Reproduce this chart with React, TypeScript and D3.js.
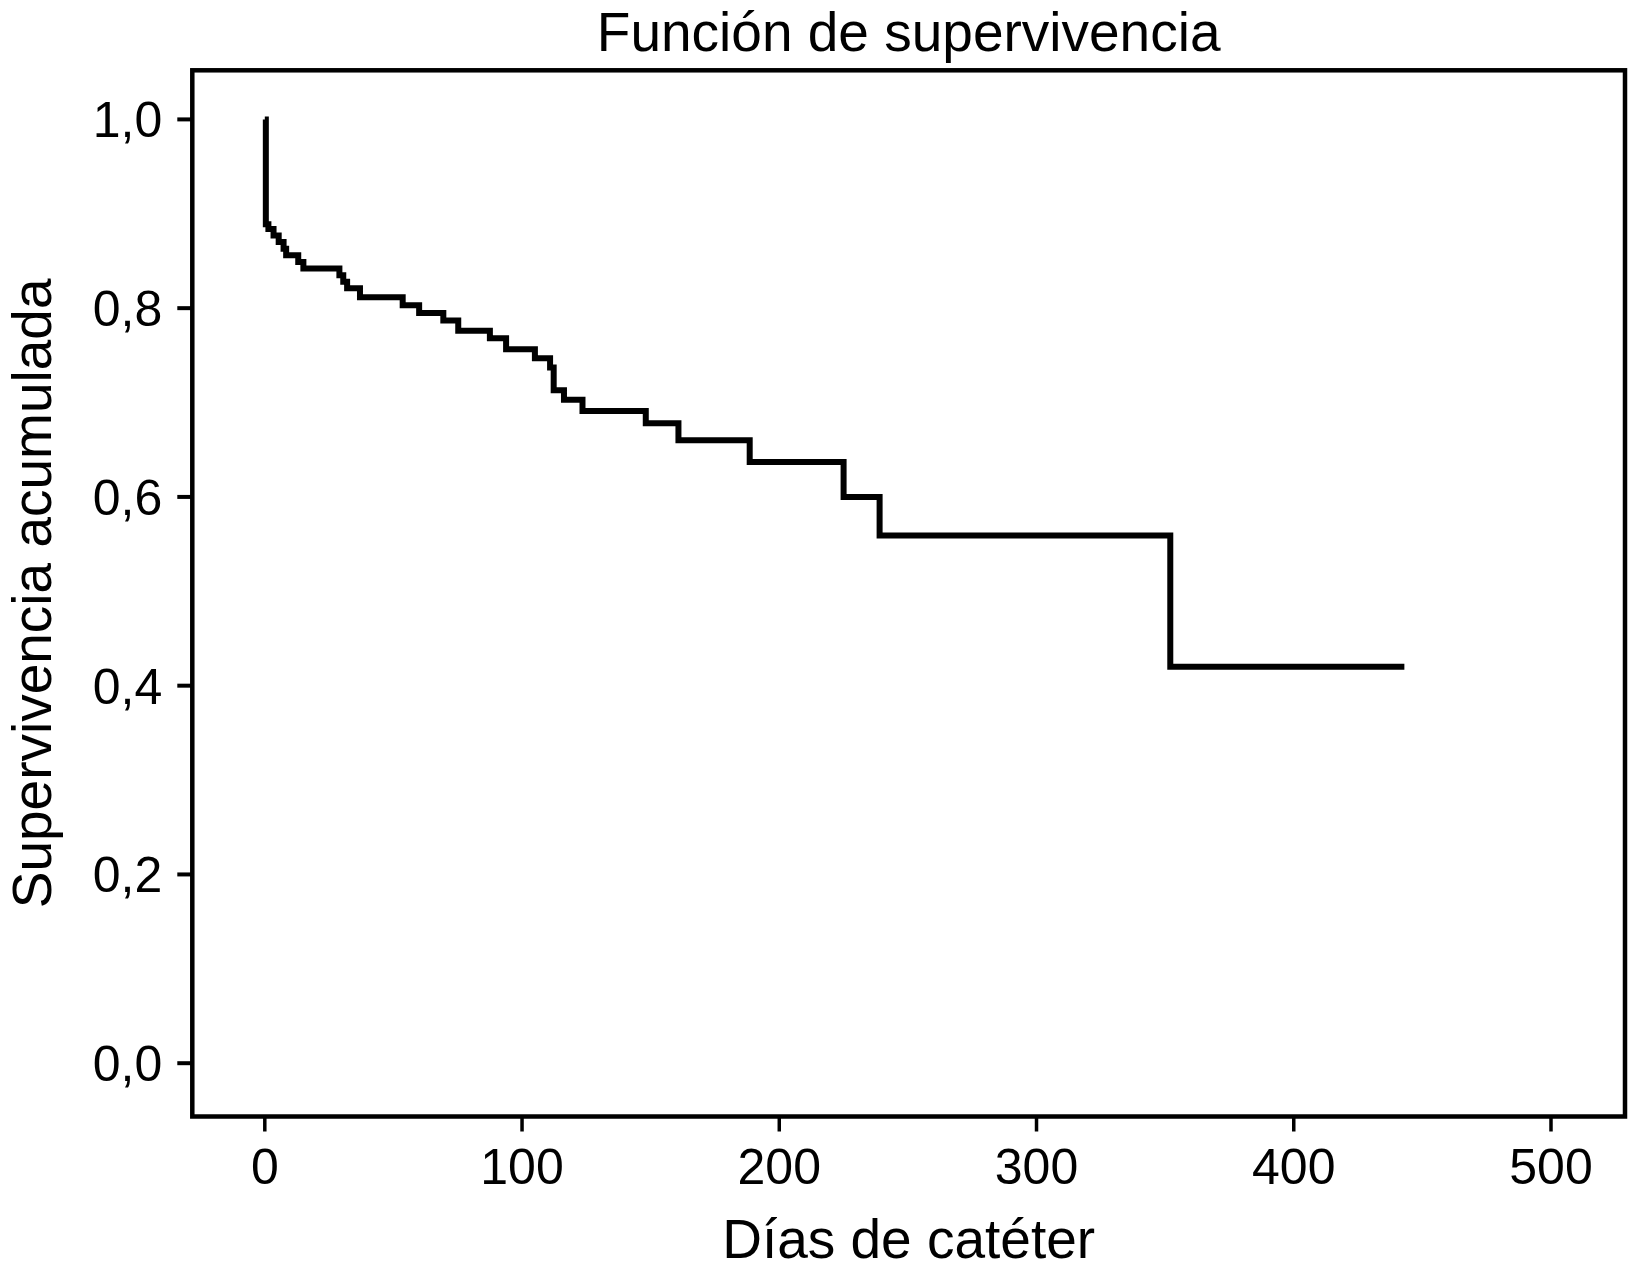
import { useRef, useEffect } from "react";
import * as d3 from "d3";

// Kaplan-Meier steps
const times = [0, 0.4, 1.4, 3.4, 5.4, 7.3, 8.3, 13, 15, 29, 30.5, 32, 37, 53.6, 60, 69.4, 75.2, 87.5, 93.8, 105, 110.9, 112.3, 116.3, 123.5, 148.1, 160.8, 188.5, 225, 239, 352];
const survival = [1.0, 0.889, 0.884, 0.877, 0.87, 0.863, 0.856, 0.849, 0.842, 0.835, 0.828, 0.821, 0.8115, 0.803, 0.795, 0.787, 0.776, 0.768, 0.7565, 0.747, 0.737, 0.713, 0.703, 0.691, 0.678, 0.66, 0.637, 0.6, 0.559, 0.42];
const lastTime = 443;

const xTicks = [0, 100, 200, 300, 400, 500];
const yTicks = [0, 0.2, 0.4, 0.6, 0.8, 1.0];

const title = "Función de supervivencia";
const xLabel = "Días de catéter";
const yLabel = "Supervivencia acumulada";

const W = 1628;
const H = 1272;
const FONT = "'Liberation Sans', Arial, Helvetica, sans-serif";

export default function App() {
  const svgRef = useRef<SVGSVGElement>(null);

  useEffect(() => {
    if (!svgRef.current) return;
    const svg = d3.select(svgRef.current);
    svg.selectAll("*").remove();

    const frame = { left: 192.3, right: 1625, top: 70.3, bottom: 1116.5 };

    const x = d3.scaleLinear().domain([0, 500]).range([264.8, 1551]);
    const y = d3.scaleLinear().domain([0, 1]).range([1063.2, 119.4]);

    svg.append("rect").attr("width", W).attr("height", H).attr("fill", "#fff");

    // frame
    svg.append("rect")
      .attr("x", frame.left).attr("y", frame.top)
      .attr("width", frame.right - frame.left)
      .attr("height", frame.bottom - frame.top)
      .attr("fill", "none").attr("stroke", "#000").attr("stroke-width", 4.5);

    // y ticks
    const yg = svg.append("g");
    yTicks.forEach((t) => {
      yg.append("line")
        .attr("x1", frame.left - 15).attr("x2", frame.left)
        .attr("y1", y(t)).attr("y2", y(t))
        .attr("stroke", "#000").attr("stroke-width", 4);
      yg.append("text")
        .attr("x", frame.left - 30).attr("y", y(t))
        .attr("dy", "0.36em")
        .attr("text-anchor", "end")
        .style("font-family", FONT).style("font-size", "50px")
        .text(d3.format(".1f")(t).replace(".", ","));
    });

    // x ticks
    const xg = svg.append("g");
    xTicks.forEach((t) => {
      xg.append("line")
        .attr("x1", x(t)).attr("x2", x(t))
        .attr("y1", frame.bottom).attr("y2", frame.bottom + 15)
        .attr("stroke", "#000").attr("stroke-width", 3.5);
      xg.append("text")
        .attr("x", x(t)).attr("y", 1184)
        .attr("text-anchor", "middle")
        .style("font-family", FONT).style("font-size", "50px")
        .text(String(t));
    });

    // survival curve
    const pts: [number, number][] = times.map((t, i) => [t, survival[i]]);
    pts.push([lastTime, survival[survival.length - 1]]);
    const line = d3.line<[number, number]>()
      .x((d) => x(d[0]))
      .y((d) => y(d[1]))
      .curve(d3.curveStepAfter);
    svg.append("path")
      .attr("d", line(pts))
      .attr("fill", "none").attr("stroke", "#000")
      .attr("stroke-width", 6).attr("stroke-linejoin", "miter");

    // labels
    const cx = (frame.left + frame.right) / 2;
    svg.append("text")
      .attr("x", cx).attr("y", 51)
      .attr("text-anchor", "middle")
      .style("font-family", FONT).style("font-size", "55px")
      .text(title);

    svg.append("text")
      .attr("x", cx).attr("y", 1258)
      .attr("text-anchor", "middle")
      .style("font-family", FONT).style("font-size", "55px")
      .text(xLabel);

    svg.append("text")
      .attr("transform", `translate(51,${(frame.top + frame.bottom) / 2}) rotate(-90)`)
      .attr("text-anchor", "middle")
      .style("font-family", FONT).style("font-size", "55px")
      .text(yLabel);
  }, []);

  return (
    <svg
      ref={svgRef}
      width={W}
      height={H}
      style={{ position: "absolute", left: 0, top: 0, display: "block" }}
    />
  );
}
